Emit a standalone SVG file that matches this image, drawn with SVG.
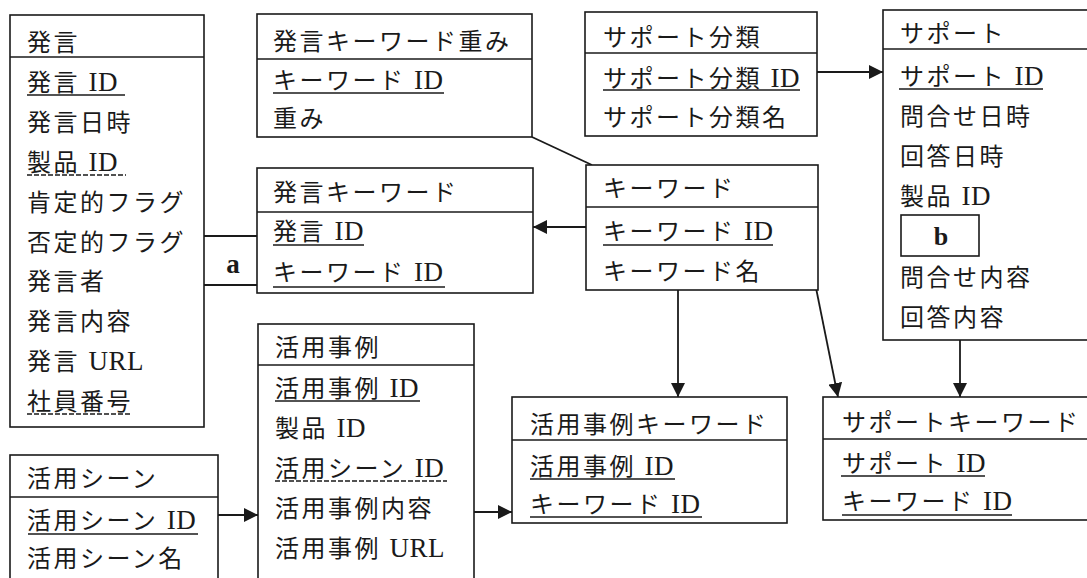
<svg xmlns="http://www.w3.org/2000/svg" width="1087" height="578" viewBox="0 0 1087 578">
<defs>
<marker id="ah" markerUnits="userSpaceOnUse" markerWidth="15" markerHeight="14" refX="14" refY="7" orient="auto">
<path d="M0,0 L14,7 L0,14 Z" fill="#1a1a1a"/>
</marker>
</defs>
<style>
text{font-family:"Liberation Serif","Noto Sans CJK JP",serif;font-size:24px;letter-spacing:2.5px;fill:#1a1a1a}
.l{font-size:27px;letter-spacing:0.5px}
.box{fill:#fff;stroke:#1a1a1a;stroke-width:1.6}
.div{stroke:#1a1a1a;stroke-width:1.6}
.u{stroke:#1a1a1a;stroke-width:1.4}
.fk{stroke:#1a1a1a;stroke-width:1.4;stroke-dasharray:5 2}
.c{stroke:#1a1a1a;stroke-width:1.8;fill:none}
.lbl{font-weight:bold;letter-spacing:0}
</style>
<rect width="1087" height="578" fill="#fff"/>

<g id="connectors">
<line class="c" x1="817" y1="72" x2="883" y2="72" marker-end="url(#ah)"/>
<line class="c" x1="586" y1="227" x2="533" y2="227" marker-end="url(#ah)"/>
<line class="c" x1="532" y1="137" x2="592" y2="165"/>
<line class="c" x1="678" y1="290" x2="678" y2="397" marker-end="url(#ah)"/>
<line class="c" x1="815" y1="283" x2="838" y2="397" marker-end="url(#ah)"/>
<line class="c" x1="960" y1="340" x2="960" y2="397" marker-end="url(#ah)"/>
<line class="c" x1="218" y1="515" x2="258" y2="515" marker-end="url(#ah)"/>
<line class="c" x1="474" y1="512" x2="512" y2="512" marker-end="url(#ah)"/>
<g id="rel-a">
<line class="c" x1="204" y1="236" x2="257" y2="236"/>
<line class="c" x1="204" y1="285" x2="257" y2="285"/>
<text class="lbl l" x="233" y="273" text-anchor="middle">a</text>
</g>
</g>

<g id="hatsugen">
<rect class="box" x="10" y="15" width="194" height="412"/>
<line class="div" x1="10" y1="57" x2="204" y2="57"/>
<text x="27" y="51">発言</text>
<text x="27" y="91">発言 <tspan class="l">ID</tspan></text>
<line class="u" x1="27" y1="95" x2="125" y2="95"/>
<text x="27" y="131">発言日時</text>
<text x="27" y="171">製品 <tspan class="l">ID</tspan></text>
<line class="fk" x1="27" y1="175" x2="126" y2="175"/>
<text x="27" y="211">肯定的フラグ</text>
<text x="27" y="251">否定的フラグ</text>
<text x="27" y="290">発言者</text>
<text x="27" y="330">発言内容</text>
<text x="27" y="370">発言 <tspan class="l">URL</tspan></text>
<text x="27" y="410">社員番号</text>
<line class="fk" x1="27" y1="414" x2="132" y2="414"/>
</g>

<g id="hatsugen-keyword-omomi">
<rect class="box" x="257" y="14" width="275" height="123"/>
<line class="div" x1="257" y1="59" x2="532" y2="59"/>
<text x="273" y="50">発言キーワード重み</text>
<text x="273" y="89">キーワード <tspan class="l">ID</tspan></text>
<line class="u" x1="273" y1="93" x2="444" y2="93"/>
<text x="273" y="127">重み</text>
</g>

<g id="hatsugen-keyword">
<rect class="box" x="257" y="168" width="276" height="125"/>
<line class="div" x1="257" y1="212" x2="533" y2="212"/>
<text x="273" y="201">発言キーワード</text>
<text x="273" y="240">発言 <tspan class="l">ID</tspan></text>
<line class="u" x1="273" y1="245" x2="364" y2="245"/>
<text x="273" y="281">キーワード <tspan class="l">ID</tspan></text>
<line class="u" x1="273" y1="287" x2="445" y2="287"/>
</g>

<g id="support-bunrui">
<rect class="box" x="585" y="12" width="232" height="124"/>
<line class="div" x1="585" y1="53" x2="817" y2="53"/>
<text x="603" y="46">サポート分類</text>
<text x="603" y="87">サポート分類 <tspan class="l">ID</tspan></text>
<line class="u" x1="603" y1="90" x2="800" y2="90"/>
<text x="603" y="126">サポート分類名</text>
</g>

<g id="keyword">
<rect class="box" x="586" y="165" width="232" height="125"/>
<line class="div" x1="586" y1="207" x2="818" y2="207"/>
<text x="603" y="197">キーワード</text>
<text x="603" y="240">キーワード <tspan class="l">ID</tspan></text>
<line class="u" x1="603" y1="245" x2="773" y2="245"/>
<text x="603" y="280">キーワード名</text>
</g>

<g id="support">
<rect class="box" x="883" y="10" width="220" height="330"/>
<line class="div" x1="883" y1="49" x2="1090" y2="49"/>
<text x="900" y="42">サポート</text>
<text x="900" y="85">サポート <tspan class="l">ID</tspan></text>
<line class="u" x1="899" y1="89" x2="1043" y2="89"/>
<text x="900" y="125">問合せ日時</text>
<text x="900" y="165">回答日時</text>
<text x="900" y="205">製品 <tspan class="l">ID</tspan></text>
<rect class="box" x="901" y="215" width="78" height="41"/>
<text class="lbl" x="941" y="245" text-anchor="middle" style="font-size:26px">b</text>
<text x="900" y="286">問合せ内容</text>
<text x="900" y="326">回答内容</text>
</g>

<g id="katsuyo-jirei">
<rect class="box" x="258" y="324" width="216" height="270"/>
<line class="div" x1="258" y1="365" x2="474" y2="365"/>
<text x="275" y="356">活用事例</text>
<text x="275" y="397">活用事例 <tspan class="l">ID</tspan></text>
<line class="u" x1="275" y1="401" x2="420" y2="401"/>
<text x="275" y="437">製品 <tspan class="l">ID</tspan></text>
<text x="275" y="477">活用シーン <tspan class="l">ID</tspan></text>
<line class="fk" x1="275" y1="481" x2="447" y2="481"/>
<text x="275" y="517">活用事例内容</text>
<text x="275" y="557">活用事例 <tspan class="l">URL</tspan></text>
</g>

<g id="katsuyo-scene">
<rect class="box" x="10" y="455" width="208" height="140"/>
<line class="div" x1="10" y1="497" x2="218" y2="497"/>
<text x="27" y="487">活用シーン</text>
<text x="27" y="529">活用シーン <tspan class="l">ID</tspan></text>
<line class="u" x1="28" y1="534" x2="198" y2="534"/>
<text x="27" y="567">活用シーン名</text>
</g>

<g id="katsuyo-jirei-keyword">
<rect class="box" x="512" y="397" width="275" height="126"/>
<line class="div" x1="512" y1="440" x2="787" y2="440"/>
<text x="530" y="433">活用事例キーワード</text>
<text x="530" y="475">活用事例 <tspan class="l">ID</tspan></text>
<line class="u" x1="530" y1="479" x2="675" y2="479"/>
<text x="530" y="513">キーワード <tspan class="l">ID</tspan></text>
<line class="u" x1="530" y1="517" x2="702" y2="517"/>
</g>

<g id="support-keyword">
<rect class="box" x="823" y="397" width="280" height="123"/>
<line class="div" x1="823" y1="439" x2="1090" y2="439"/>
<text x="842" y="431">サポートキーワード</text>
<text x="842" y="472">サポート <tspan class="l">ID</tspan></text>
<line class="u" x1="841" y1="476" x2="985" y2="476"/>
<text x="842" y="510">キーワード <tspan class="l">ID</tspan></text>
<line class="u" x1="842" y1="515" x2="1012" y2="515"/>
</g>
</svg>
